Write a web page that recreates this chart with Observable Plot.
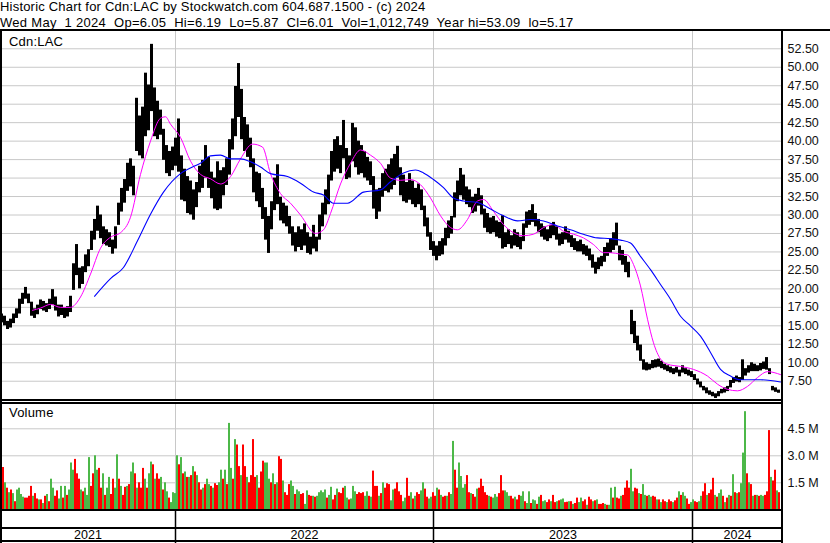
<!DOCTYPE html>
<html>
<head>
<meta charset="utf-8">
<script src="https://cdn.jsdelivr.net/npm/d3@7"></script>
<script src="https://cdn.jsdelivr.net/npm/@observablehq/plot@0.6"></script>
<style>
html,body{margin:0;padding:0;background:#fff;}
#chart{position:relative;width:830px;height:543px;overflow:hidden;background:#fff;font-family:Arial,"Liberation Sans",Helvetica,sans-serif;color:#000;}
#chart .abs{position:absolute;}
#chart .txt{position:absolute;font-size:13px;line-height:15px;white-space:pre;letter-spacing:0.2px;}
#chart .ln{position:absolute;background:#000;}
#chart svg{display:block;overflow:visible;}
</style>
</head>
<body>
<div id="chart"></div>
<script>
// ---------- text ----------
const titleLine = "Historic Chart for Cdn:LAC by Stockwatch.com 604.687.1500 - (c) 2024";
const quoteLine = "Wed May  1 2024  Op=6.05  Hi=6.19  Lo=5.87  Cl=6.01  Vol=1,012,749  Year hi=53.09  lo=5.17";
const priceLabel = "Cdn:LAC";
const volumeLabel = "Volume";

// ---------- x layout (weekday index) ----------
const yearLabels = ["2021", "2022", "2023", "2024"];
const yearStarts = [0, 175, 433, 692];
const lastDay = 782;

// ---------- ticks ----------
const priceTicks = [7.5, 10, 12.5, 15, 17.5, 20, 22.5, 25, 27.5, 30, 32.5, 35, 37.5, 40, 42.5, 45, 47.5, 50, 52.5];
const volumeTicks = [1.5, 3.0, 4.5];

// ---------- price bars (one bar per 3 weekdays) ----------
const priceStep = 3;
const priceHigh = [
16.6,16.3,15.6,15.9,16.6,17.3,18.6,19.4,20.2,19.3,
18.2,17.3,17.8,18.5,18.3,18.0,18.6,19.9,18.9,17.8,
17.8,17.4,17.6,19.0,23.4,26.0,22.8,23.0,24.6,25.3,
27.8,29.4,31.2,30.0,28.4,28.0,27.6,26.6,28.4,31.6,
33.6,34.8,37.0,37.6,36.6,45.8,43.4,44.6,49.2,47.6,
53.1,47.2,45.4,44.2,41.6,39.4,38.6,39.2,40.4,43.0,
38.0,36.2,35.2,34.6,33.4,34.4,36.6,37.4,39.4,37.8,
35.8,35.0,37.2,36.0,36.4,37.6,40.2,43.0,47.4,50.5,
47.0,43.2,42.2,40.4,37.6,35.8,35.6,33.6,31.0,29.8,
31.8,35.0,36.8,32.4,31.6,31.2,29.8,28.4,27.6,28.4,
28.0,28.8,27.6,27.0,28.6,27.0,30.0,31.6,33.4,35.4,
38.6,40.2,40.6,39.4,42.8,39.0,38.0,42.4,41.8,40.0,
39.4,38.6,37.8,37.2,35.2,33.4,33.6,35.6,36.2,36.8,
37.6,38.2,39.3,36.4,35.4,34.4,35.6,34.6,33.6,34.2,
33.4,31.2,29.6,27.6,26.4,25.8,26.4,26.8,28.2,29.2,
29.8,33.0,34.6,36.3,35.4,33.8,33.4,32.4,32.8,33.6,
32.6,30.8,30.2,29.6,29.8,29.2,29.0,29.9,27.6,28.0,
27.2,28.0,27.6,27.0,28.8,30.4,30.6,31.4,30.2,29.4,
28.8,28.4,28.0,28.6,29.0,28.4,27.4,27.6,28.4,27.8,
27.2,26.8,26.4,26.6,26.0,25.8,25.4,24.6,23.6,24.2,
24.4,25.6,26.2,26.8,27.6,28.9,25.8,25.2,24.4,23.6,
17.1,15.6,13.6,12.4,10.4,10.0,9.8,10.3,10.4,10.5,
10.2,9.8,9.6,9.4,9.2,9.4,9.0,9.6,9.2,9.0,
8.8,8.4,7.8,7.4,6.8,6.6,6.2,6.0,5.8,6.1,
6.4,6.6,6.8,7.6,8.0,8.2,8.0,10.4,9.2,9.6,
10.0,9.8,9.6,9.9,10.1,10.7,9.2,6.8,6.6,6.3];
const priceLow = [
15.4,15.0,14.5,14.7,15.3,16.0,16.6,17.9,18.6,18.0,
16.3,16.0,16.5,17.2,17.0,16.8,17.2,17.8,17.0,16.2,
16.4,16.0,16.2,16.8,19.8,21.8,20.0,20.6,22.2,23.0,
25.2,26.6,27.8,26.8,26.0,25.8,25.6,24.7,25.4,28.6,
30.4,31.6,33.2,33.8,32.6,38.6,38.0,37.6,40.6,41.4,
44.0,40.6,40.2,40.8,37.4,35.6,35.2,36.0,36.6,35.8,
32.0,31.8,30.2,30.0,29.3,31.0,33.0,33.6,35.0,33.6,
32.2,30.8,30.6,30.8,32.6,34.0,35.4,38.8,40.6,43.2,
40.2,38.6,37.8,36.4,33.0,31.8,31.0,29.4,26.6,24.8,
28.0,30.6,31.4,29.2,28.8,28.4,27.4,25.8,25.0,25.6,
25.2,25.8,24.8,24.6,25.4,25.0,26.6,28.4,30.0,31.4,
34.6,35.8,36.2,35.6,37.6,34.8,35.0,37.2,36.4,35.4,
35.6,35.0,34.6,34.0,30.8,29.4,30.4,32.4,33.2,33.0,
33.4,34.0,35.0,32.6,31.8,31.6,32.0,31.4,31.0,31.4,
30.6,28.4,27.0,25.2,24.4,23.8,24.4,24.6,25.8,26.8,
27.4,29.6,31.8,32.6,32.0,31.4,31.0,30.2,30.4,31.2,
30.0,28.2,27.6,27.4,27.6,27.0,26.8,25.4,25.6,26.0,
25.4,25.8,25.6,25.3,26.4,28.2,28.6,29.0,28.4,27.6,
27.0,26.6,26.4,26.8,27.2,26.6,25.8,26.0,26.6,26.2,
25.6,25.2,25.0,25.0,24.6,24.4,23.8,22.8,22.0,22.6,
23.0,23.6,24.4,24.8,25.2,25.8,23.8,23.2,22.2,21.5,
13.8,12.6,11.6,10.2,9.0,8.9,9.0,9.2,9.3,9.4,
9.2,9.0,8.8,8.6,8.4,8.6,8.1,8.6,8.4,8.2,
8.0,7.6,7.0,6.6,6.2,5.8,5.6,5.4,5.17,5.4,
5.8,5.9,6.1,6.6,7.2,7.4,7.3,7.6,8.2,8.6,
8.8,8.8,8.8,8.9,9.1,9.0,8.4,6.2,6.0,5.87];

// ---------- moving averages ----------
const fastMaDay = [32,40,50,60,70,80,90,100,110,120,130,140,150,160,165,170,180,190,200,210,220,230,240,252,262,270,280,290,300,315,323,330,340,350,360,370,380,390,400,410,420,430,440,450,457,467,477,483,493,503,513,523,533,543,553,563,573,583,593,603,610,620,627,633,640,647,653,660,667,680,693,707,717,727,737,747,757,767,780];
const fastMa = [17.1,17.4,17.9,17.5,17.5,18.9,22.0,25.5,27.0,27.6,29.7,35.5,40.0,43.1,43.3,42.3,40.5,37.3,35.5,34.9,34.2,35.2,37.6,39.6,39.2,35.6,32.9,31.6,30.0,27.5,28.0,30.2,34.2,37.0,38.8,38.1,37.0,35.0,34.7,34.8,34.1,32.3,29.9,28.3,28.0,29.4,31.9,32.1,30.5,28.7,27.6,27.2,27.4,28.3,28.7,27.8,27.4,26.9,26.0,24.9,24.9,24.7,24.6,23.3,20.4,15.9,12.7,10.5,9.8,9.5,9.1,8.2,7.1,6.4,6.2,6.8,8.0,8.8,8.4];
const slowMaDay = [94,110,123,137,150,163,180,192,200,210,220,230,240,250,260,270,287,300,313,323,333,347,363,380,390,403,415,423,433,443,453,463,477,490,503,517,530,543,557,570,583,597,610,620,630,640,650,660,670,680,690,700,710,720,730,740,750,760,770,780];
const slowMa = [19.0,21.4,22.9,26.5,30.1,33.1,35.6,36.5,37.0,38.0,38.1,37.6,37.6,37.2,36.5,35.6,35.2,34.3,33.1,32.7,31.6,31.6,33.1,33.4,34.5,35.7,36.1,35.7,34.8,33.7,32.3,31.9,31.7,30.8,29.9,29.2,29.4,29.2,28.5,28.0,27.4,26.9,26.8,26.6,26.2,24.4,22.6,20.6,18.6,16.3,15.0,13.6,11.4,9.1,8.2,7.7,7.7,7.7,7.6,7.4];

// ---------- volume (millions, one bar per 2 weekdays) ----------
const volumeStep = 2;
const volume = [
0.95,2.35,1.5,1.2,0.95,1.1,0.9,0.45,1.1,1.2,
0.85,0.7,0.65,0.65,0.75,1.3,0.75,0.9,0.6,0.55,
0.55,0.35,0.75,0.85,0.45,1.7,1.2,0.75,1.05,0.6,
1.3,0.65,1.3,0.8,1.1,2.6,2.2,2.8,2.0,1.7,
1.1,1.0,1.2,0.8,2.9,1.3,2.0,3.0,2.2,2.3,
1.2,2.0,0.8,1.2,1.8,0.85,1.7,1.2,3.05,1.7,
1.3,0.8,1.25,1.3,1.4,2.1,2.6,2.0,1.2,1.5,
1.2,2.3,1.7,1.2,2.0,2.65,2.5,1.7,2.0,1.7,
1.8,1.1,1.5,1.0,0.65,0.4,0.95,0.9,3.0,2.5,
2.9,2.0,2.1,1.8,1.8,1.9,2.4,2.1,1.9,1.5,
1.1,1.2,1.4,1.7,1.4,1.3,1.2,1.45,1.35,1.5,
2.2,1.7,2.2,1.4,4.8,2.3,1.7,3.9,3.6,2.4,
1.9,3.6,2.4,1.8,1.5,1.9,3.9,1.8,1.9,1.2,
2.1,2.7,2.6,2.6,1.7,1.5,2.0,1.4,1.5,2.95,
2.8,1.6,0.95,0.8,1.4,1.6,1.3,0.85,1.1,1.0,
0.85,0.9,0.3,1.05,0.8,0.75,0.75,0.7,0.75,0.95,
1.05,0.95,1.1,0.65,0.8,1.25,0.55,0.8,1.15,0.95,
0.9,1.2,1.3,0.65,0.55,0.6,1.3,1.0,0.85,0.95,
0.9,0.95,0.75,1.0,0.75,0.7,2.15,1.3,1.3,0.75,
0.9,1.5,1.2,1.45,1.4,0.5,1.1,1.15,1.5,1.0,
0.8,0.45,0.65,1.75,0.75,0.95,0.6,0.75,0.95,0.85,
1.05,1.5,1.15,0.7,0.6,0.7,0.95,0.75,1.2,1.1,
0.8,0.7,0.75,0.75,0.95,0.85,3.8,2.2,1.2,2.6,
1.85,1.2,1.4,1.9,0.95,0.9,0.85,0.7,1.15,1.2,
1.7,1.3,0.95,0.8,0.75,0.7,0.65,0.85,0.7,0.9,
1.9,1.05,1.05,0.95,0.75,0.75,0.6,0.7,0.55,0.8,
0.75,1.0,0.45,0.35,1.0,0.35,0.55,0.5,0.3,0.7,
0.8,0.45,0.5,0.4,0.55,0.45,0.8,0.4,0.45,0.5,
0.55,0.6,0.4,0.42,0.45,0.45,0.3,0.35,0.65,0.4,
0.65,0.45,0.55,0.25,0.7,0.55,0.45,0.5,0.55,0.3,
0.3,0.35,0.3,0.25,0.25,1.2,0.65,1.25,0.65,0.6,
0.75,0.8,1.2,1.6,1.2,2.25,1.0,1.2,1.15,0.9,
0.85,1.4,0.8,0.75,0.8,0.7,0.75,0.7,0.55,0.55,
0.4,0.55,0.45,0.4,0.55,0.45,0.4,0.5,0.65,1.0,
0.8,0.95,0.75,0.6,0.3,0.4,0.55,0.45,0.4,0.45,
0.75,1.0,1.45,0.8,0.9,1.1,1.75,0.8,0.7,0.9,
1.1,0.75,0.4,0.65,0.8,0.75,1.95,0.95,0.9,0.95,
1.45,3.15,5.45,2.0,1.5,1.4,0.75,0.8,0.8,0.75,
0.8,0.75,0.8,1.0,4.4,1.8,1.6,2.2,1.05,0.95];
// g = up day (green), r = down day (red)
const volumeDir =
"rrgrgrgrgg" + "ggrrrrgrrg" + "rgrgrggrrg" + "grgrgggrrr" + "grgggrrggr" +
"rgrggrrggr" + "grrgrggrgr" + "rrgrggrgrr" + "grggrggggr" + "grgrgrgrgr" +
"rgrggrgrrg" + "grgrggrgrr" + "grrgrrrrgr" + "rrgggrgrgr" + "rgrrrggrgg" +
"rrggrrgrgg" + "gggrggrrgr" + "rrggrgggrr" + "rrggrgrrrg" + "rgrrrggrrr" +
"rggrrgrgrr" + "ggrrggrrgr" + "grrgrggrrg" + "gggrrgrrgr" + "rrrrgrgggr" +
"rrgggrrgrr" + "ggrggrggrg" + "rggrrgrrgr" + "ggrrgrgrrg" + "grrgrrgrgr" +
"rrgrggrgrr" + "grrrrggrrg" + "rggrggrrgr" + "grrgrrgrrg" + "rggrrggrrg" +
"grrgrrrgrg" + "grgrgrgrgr" + "gggrgrgrgr" + "ggrrrgrrgr";

// ---------- styles ----------
const gridColor = "#c8c8c8";
const upColor = "#4cb848";
const downColor = "#ff0000";
const fastColor = "#ff00ff";
const slowColor = "#0000ff";
const fontFam = 'Arial, "Liberation Sans", sans-serif';

// ---------- build tables ----------
const priceRows = priceHigh.map((h, i) => ({x1: i * priceStep, x2: (i + 1) * priceStep, hi: h, lo: priceLow[i]}));
const fastRows = fastMaDay.map((d, i) => ({day: d, v: fastMa[i]}));
const slowRows = slowMaDay.map((d, i) => ({day: d, v: slowMa[i]}));
const volRows = volume.map((v, i) => ({x1: i * volumeStep, x2: (i + 1) * volumeStep, v, up: volumeDir[i] === "g"}));
const yearRows = yearLabels.map((label, i) => ({label, mid: (yearStarts[i] + (i + 1 < yearStarts.length ? yearStarts[i + 1] : lastDay)) / 2}));
const yearBreaks = yearStarts.slice(1);

const chart = document.getElementById("chart");
const W = 830;
const xScale = {domain: [0, lastDay], range: [0, lastDay], axis: null};
const common = {width: W, marginTop: 0, marginBottom: 0, marginLeft: 0, marginRight: W - lastDay,
  style: {fontFamily: fontFam, fontSize: "12.5px", color: "#111", background: "transparent"}};

const pricePlot = Plot.plot({
  ...common, height: 369,
  x: xScale,
  y: {domain: [5, 54.84], range: [368.2, 0], axis: null},
  marks: [
    Plot.gridY(priceTicks, {stroke: gridColor, strokeOpacity: 1}),
    Plot.gridX(yearBreaks, {stroke: gridColor, strokeOpacity: 1}),
    Plot.rect(priceRows, {x1: "x1", x2: "x2", y1: "lo", y2: "hi", fill: "#000"}),
    Plot.line(fastRows, {x: "day", y: "v", stroke: fastColor, strokeWidth: 1, curve: "monotone-x"}),
    Plot.line(slowRows, {x: "day", y: "v", stroke: slowColor, strokeWidth: 1.1, curve: "monotone-x"}),
    Plot.axisY(priceTicks, {anchor: "right", tickSize: 0, tickPadding: 5, tickFormat: d => d.toFixed(2), label: null, fontSize: 12.5})
  ]
});

const volPlot = Plot.plot({
  ...common, height: 107,
  x: xScale,
  y: {domain: [0, 4.5], range: [106.3, 25.3], axis: null},
  marks: [
    Plot.gridY(volumeTicks, {stroke: gridColor, strokeOpacity: 1}),
    Plot.gridX(yearBreaks, {stroke: gridColor, strokeOpacity: 1}),
    Plot.rect(volRows, {x1: "x1", x2: "x2", y1: () => 0, y2: "v", fill: d => d.up ? upColor : downColor}),
    Plot.axisY(volumeTicks, {anchor: "right", tickSize: 0, tickPadding: 5, tickFormat: d => d.toFixed(1) + " M", label: null, fontSize: 12.5})
  ]
});

const yearPlot = Plot.plot({
  ...common, height: 33,
  x: xScale,
  marks: [
    Plot.ruleX(yearBreaks, {stroke: "#000", strokeWidth: 1.5}),
    Plot.text(yearRows, {x: "mid", text: "label", frameAnchor: "middle", dy: 8, fontSize: 12.5, fill: "#000"})
  ]
});

function place(node, top) {
  const d = document.createElement("div");
  d.className = "abs";
  d.style.left = "0px";
  d.style.top = top + "px";
  d.appendChild(node);
  chart.appendChild(d);
}
place(pricePlot, 31);
place(volPlot, 403);
place(yearPlot, 510);

function addText(str, left, top, spacing) {
  const d = document.createElement("div");
  d.className = "txt";
  d.style.left = left + "px";
  d.style.top = top + "px";
  if (spacing != null) d.style.letterSpacing = spacing + "px";
  d.textContent = str;
  chart.appendChild(d);
}
addText(titleLine, 0, -1.5, 0.2);
addText(quoteLine, 0, 14.5, 0.3);
addText(priceLabel, 9, 33.7);
addText(volumeLabel, 9, 405.3);

function addLine(l, t, w, h) {
  const d = document.createElement("div");
  d.className = "ln";
  Object.assign(d.style, {left: l + "px", top: t + "px", width: w + "px", height: h + "px"});
  chart.appendChild(d);
}
addLine(0, 29, W, 2);
addLine(0, 29, 2, 514);
addLine(lastDay - 1, 29, 2, 514);
addLine(0, 399, lastDay + 1, 1.5);
addLine(0, 402, lastDay + 1, 1.5);
addLine(0, 509, lastDay + 1, 2);
addLine(0, 527, lastDay + 1, 1.5);
addLine(0, 540, lastDay + 1, 2);
</script>
</body>
</html>
